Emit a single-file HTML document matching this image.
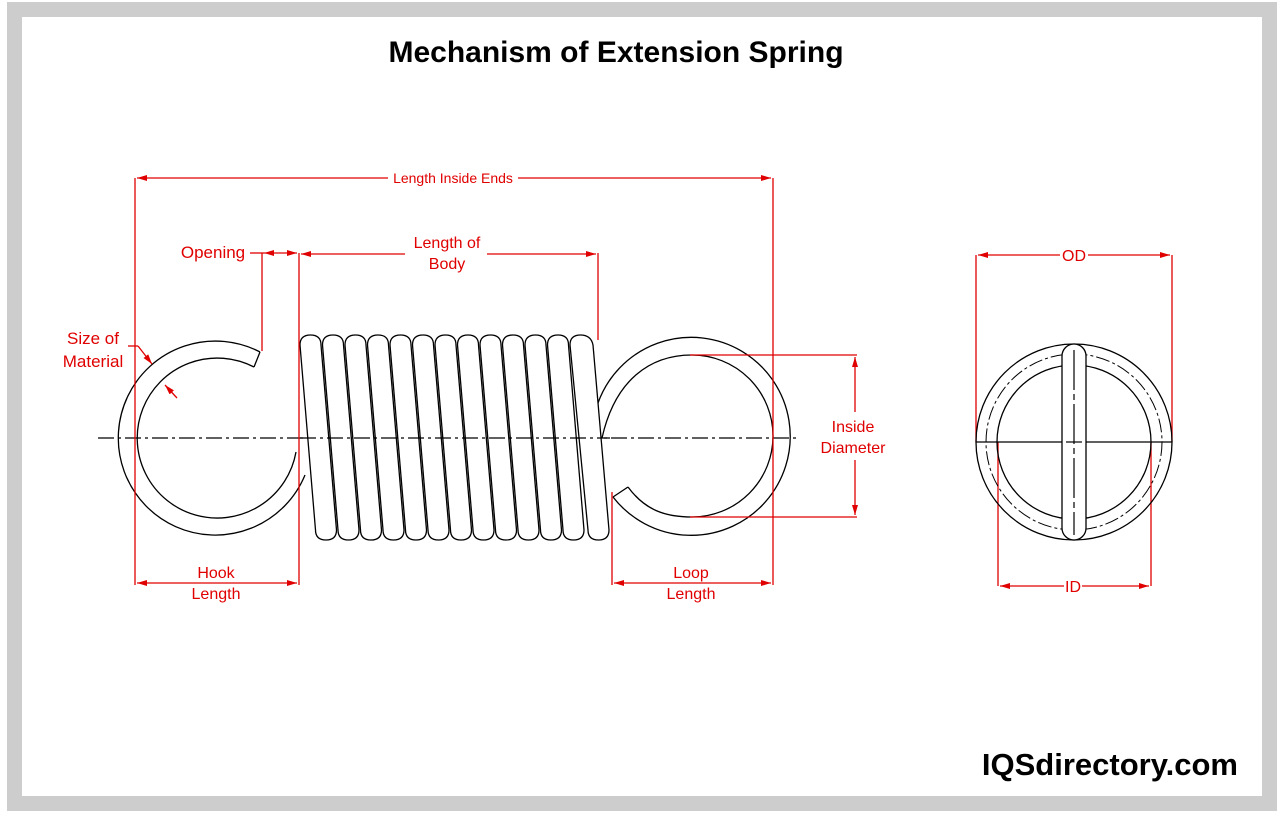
<!DOCTYPE html>
<html><head><meta charset="utf-8"><style>
html,body{margin:0;padding:0;background:#fff;}
svg{display:block;}
text{font-family:"Liberation Sans",Arial,sans-serif;}
</style></head><body>
<svg width="1284" height="813" viewBox="0 0 1284 813" xmlns="http://www.w3.org/2000/svg">
<defs>
<marker id="a" viewBox="0 0 10 6" refX="10" refY="3" markerWidth="10" markerHeight="6" orient="auto-start-reverse" markerUnits="userSpaceOnUse">
<path d="M0,0 L10,3 L0,6 Z" fill="#e00000"/></marker>
</defs>
<rect x="0" y="0" width="1284" height="813" fill="#fff"/>
<rect x="14.5" y="9.5" width="1255" height="794" fill="none" stroke="#cdcdcd" stroke-width="15"/>
<text x="616" y="62" font-size="30" font-weight="bold" text-anchor="middle" fill="#000">Mechanism of Extension Spring</text>

<line x1="98" y1="438" x2="798" y2="438" stroke="#000" stroke-width="1.2" stroke-dasharray="16,4,3,4"/>

<g fill="none" stroke="#000" stroke-width="1.3">
<path d="M260,352 A97,97 0 1 0 305,475"/>
<path d="M254,367 A80,80 0 1 0 296,452"/>
<line x1="260" y1="352" x2="254" y2="367"/>
<path d="M598,403 A99,99 0 1 1 613,497"/>
<path d="M602,438 C615,380 650,355 692,355 A81,81 0 1 1 692,517 C665,517 645,510 628,487"/>
<line x1="613" y1="497" x2="628" y2="487"/>
</g>
<g fill="#fff" stroke="#000" stroke-width="1.3">
<path d="M300,345 Q300,335 310.5,335 Q321,335 321,345 L336.5,530 Q336.5,540 326,540 Q315.5,540 315.5,530 Z"/>
<path d="M322.5,345 Q322.5,335 333,335 Q343.5,335 343.5,345 L359,530 Q359,540 348.5,540 Q338,540 338,530 Z"/>
<path d="M345,345 Q345,335 355.5,335 Q366,335 366,345 L381.5,530 Q381.5,540 371,540 Q360.5,540 360.5,530 Z"/>
<path d="M367.5,345 Q367.5,335 378,335 Q388.5,335 388.5,345 L404,530 Q404,540 393.5,540 Q383,540 383,530 Z"/>
<path d="M390,345 Q390,335 400.5,335 Q411,335 411,345 L426.5,530 Q426.5,540 416,540 Q405.5,540 405.5,530 Z"/>
<path d="M412.5,345 Q412.5,335 423,335 Q433.5,335 433.5,345 L449,530 Q449,540 438.5,540 Q428,540 428,530 Z"/>
<path d="M435,345 Q435,335 445.5,335 Q456,335 456,345 L471.5,530 Q471.5,540 461,540 Q450.5,540 450.5,530 Z"/>
<path d="M457.5,345 Q457.5,335 468,335 Q478.5,335 478.5,345 L494,530 Q494,540 483.5,540 Q473,540 473,530 Z"/>
<path d="M480,345 Q480,335 490.5,335 Q501,335 501,345 L516.5,530 Q516.5,540 506,540 Q495.5,540 495.5,530 Z"/>
<path d="M502.5,345 Q502.5,335 513,335 Q523.5,335 523.5,345 L539,530 Q539,540 528.5,540 Q518,540 518,530 Z"/>
<path d="M525,345 Q525,335 535.5,335 Q546,335 546,345 L561.5,530 Q561.5,540 551,540 Q540.5,540 540.5,530 Z"/>
<path d="M547.5,345 Q547.5,335 558,335 Q568.5,335 568.5,345 L584,530 Q584,540 573.5,540 Q563,540 563,530 Z"/>
<path d="M570,345 Q570,335 580.5,335 Q591,335 593,345 L609,530 Q609,540 598.5,540 Q588,540 588,530 Z"/>
</g>
<line x1="300" y1="438" x2="610" y2="438" stroke="#000" stroke-width="1.2" stroke-dasharray="16,4,3,4"/>

<g stroke="#e00000" stroke-width="1.3" fill="none">
<line x1="135" y1="178" x2="135" y2="585"/>
<line x1="773" y1="178" x2="773" y2="585"/>
<line x1="299" y1="253" x2="299" y2="585"/>
<line x1="262" y1="253" x2="262" y2="351"/>
<line x1="598" y1="253" x2="598" y2="340"/>
<line x1="612" y1="492" x2="612" y2="585"/>
<line x1="137" y1="178" x2="388" y2="178" marker-start="url(#a)"/>
<line x1="518" y1="178" x2="771" y2="178" marker-end="url(#a)"/>
<line x1="250" y1="253" x2="264" y2="253"/>
<line x1="264" y1="253" x2="297" y2="253" marker-start="url(#a)" marker-end="url(#a)"/>
<line x1="301" y1="254" x2="405" y2="254" marker-start="url(#a)"/>
<line x1="487" y1="254" x2="596" y2="254" marker-end="url(#a)"/>
<line x1="137" y1="583" x2="297" y2="583" marker-start="url(#a)" marker-end="url(#a)"/>
<line x1="614" y1="583" x2="771" y2="583" marker-start="url(#a)" marker-end="url(#a)"/>
<line x1="690" y1="355" x2="857" y2="355"/>
<line x1="690" y1="517" x2="857" y2="517"/>
<line x1="855" y1="357" x2="855" y2="412" marker-start="url(#a)"/>
<line x1="855" y1="460" x2="855" y2="515" marker-end="url(#a)"/>
<line x1="128" y1="346" x2="138" y2="346"/>
<line x1="138" y1="346" x2="152" y2="364" marker-end="url(#a)"/>
<line x1="177" y1="398" x2="165" y2="385" marker-end="url(#a)"/>
<line x1="976" y1="255" x2="976" y2="442"/>
<line x1="1172" y1="255" x2="1172" y2="442"/>
<line x1="978" y1="255" x2="1060" y2="255" marker-start="url(#a)"/>
<line x1="1088" y1="255" x2="1170" y2="255" marker-end="url(#a)"/>
<line x1="998" y1="442" x2="998" y2="586"/>
<line x1="1151" y1="442" x2="1151" y2="586"/>
<line x1="1000" y1="586" x2="1064" y2="586" marker-start="url(#a)"/>
<line x1="1082" y1="586" x2="1149" y2="586" marker-end="url(#a)"/>
</g>
<g fill="#e00000" font-size="16" text-anchor="middle">
<text x="453" y="183" font-size="14">Length Inside Ends</text>
<text x="213" y="258" font-size="17">Opening</text>
<text x="447" y="248">Length of</text>
<text x="447" y="269">Body</text>
<text x="93" y="344" font-size="17">Size of</text>
<text x="93" y="367" font-size="17">Material</text>
<text x="216" y="578">Hook</text>
<text x="216" y="599">Length</text>
<text x="691" y="578">Loop</text>
<text x="691" y="599">Length</text>
<text x="853" y="432">Inside</text>
<text x="853" y="453">Diameter</text>
<text x="1074" y="261">OD</text>
<text x="1073" y="592">ID</text>
</g>

<g fill="none" stroke="#000" stroke-width="1.3">
<circle cx="1074" cy="442" r="98"/>
<circle cx="1074" cy="442" r="88" stroke-dasharray="14,3,3,3" stroke-width="1"/>
<circle cx="1074" cy="442" r="77"/>
<line x1="976" y1="442" x2="1172" y2="442"/>
</g>
<rect x="1062" y="344" width="24" height="196" rx="12" fill="#fff" stroke="#000" stroke-width="1.3"/>
<line x1="1074" y1="350" x2="1074" y2="535" stroke="#000" stroke-width="1.2" stroke-dasharray="40,4,6,4"/>
<line x1="1066" y1="442" x2="1082" y2="442" stroke="#000" stroke-width="1.2"/>

<text x="1238" y="775" font-size="31" font-weight="bold" text-anchor="end" fill="#000">IQSdirectory.com</text>
</svg>
</body></html>
